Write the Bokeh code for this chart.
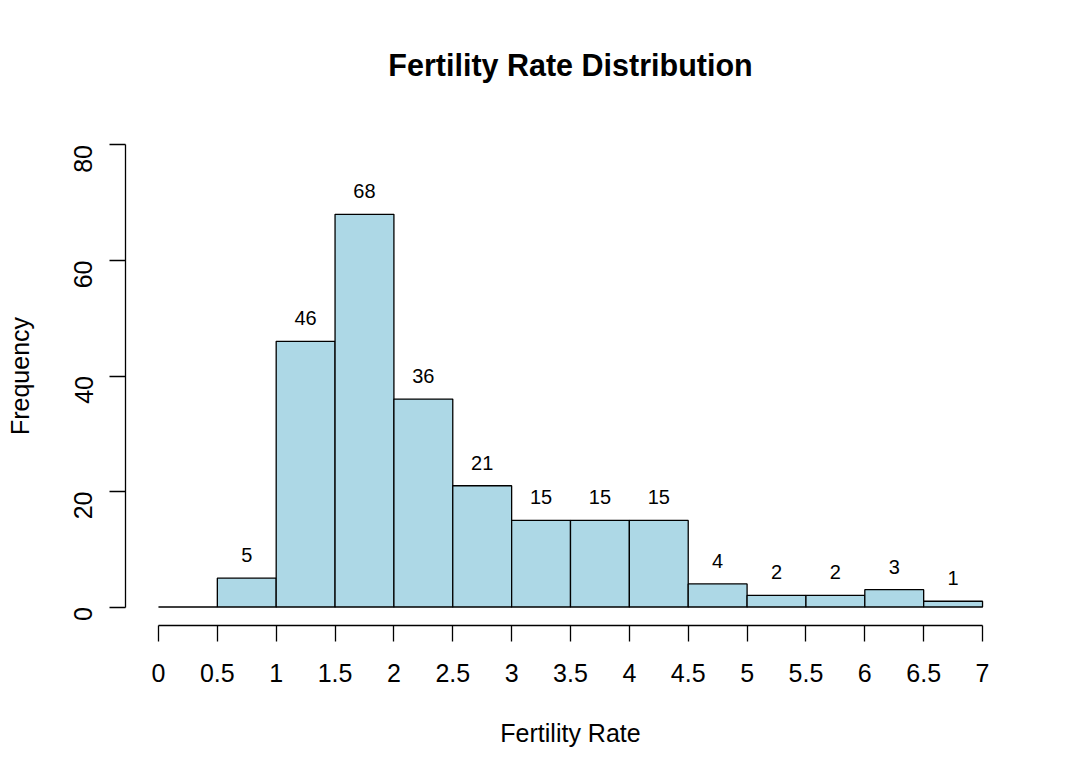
import math
from bokeh.plotting import figure
from bokeh.models import ColumnDataSource, FixedTicker, Range1d
from bokeh.core.properties import value
from bokeh.embed import file_html
from bokeh.resources import INLINE

# Data
bin_left = [0.0, 0.5, 1.0, 1.5, 2.0, 2.5, 3.0, 3.5, 4.0, 4.5, 5.0, 5.5, 6.0, 6.5]
bin_right = [0.5, 1.0, 1.5, 2.0, 2.5, 3.0, 3.5, 4.0, 4.5, 5.0, 5.5, 6.0, 6.5, 7.0]
counts = [0, 5, 46, 68, 36, 21, 15, 15, 15, 4, 2, 2, 3, 1]
x_ticks = [0, 0.5, 1, 1.5, 2, 2.5, 3, 3.5, 4, 4.5, 5, 5.5, 6, 6.5, 7]
y_ticks = [0, 20, 40, 60, 80]

FONT = "Liberation Sans"

src = ColumnDataSource(dict(left=bin_left, right=bin_right, top=counts,
                            bottom=[0] * len(counts)))
lab_idx = [i for i, c in enumerate(counts) if c > 0]
lab_src = ColumnDataSource(dict(
    x=[(bin_left[i] + bin_right[i]) / 2 for i in lab_idx],
    y=[counts[i] for i in lab_idx],
    t=[str(counts[i]) for i in lab_idx],
))

p = figure(frame_width=890, frame_height=499,
           min_border_left=125, min_border_top=126, min_border_bottom=150,
           min_border_right=41,
           x_range=Range1d(-0.28, 7.28), y_range=Range1d(-3.2, 83.2),
           output_backend="svg", toolbar_location=None,
           title="Fertility Rate Distribution")

p.quad(left="left", right="right", top="top", bottom="bottom", source=src,
       fill_color="#ADD8E6", line_color="black", line_width=1.3)

p.text(x="x", y="y", text="t", source=lab_src, text_align="center",
       text_baseline="alphabetic", y_offset=-23,
       text_font=value(FONT), text_font_size="20px", text_color="black")

p.title.text_font = FONT
p.title.text_font_size = "30.5px"
p.title.text_font_style = "bold"
p.title.align = "center"
p.title.standoff = 90
p.title.text_color = "black"

p.xgrid.visible = False
p.ygrid.visible = False
p.outline_line_color = None
p.background_fill_color = "white"
p.border_fill_color = "white"

for ax in (p.xaxis[0], p.yaxis[0]):
    ax.axis_line_color = "black"
    ax.axis_line_width = 1.3
    ax.major_tick_line_color = "black"
    ax.major_tick_line_width = 1.3
    ax.major_tick_in = 0
    ax.major_tick_out = 16
    ax.minor_tick_line_color = None
    ax.major_label_text_font = FONT
    ax.major_label_text_font_size = "25px"
    ax.major_label_text_color = "black"
    ax.axis_label_text_font = FONT
    ax.axis_label_text_font_size = "25px"
    ax.axis_label_text_font_style = "normal"
    ax.axis_label_text_color = "black"

xa = p.xaxis[0]
xa.ticker = FixedTicker(ticks=x_ticks)
xa.bounds = (0, 7)
xa.major_label_overrides = {t: ("%g" % t) for t in x_ticks}
xa.major_label_standoff = 22
xa.axis_label = "Fertility Rate"
xa.axis_label_standoff = 34

ya = p.yaxis[0]
ya.ticker = FixedTicker(ticks=y_ticks)
ya.bounds = (0, 80)
ya.major_label_orientation = math.pi / 2
ya.major_label_standoff = 26
ya.axis_label = "Frequency"
ya.axis_label_standoff = 29

open("out.html", "w").write(file_html(p, INLINE))
